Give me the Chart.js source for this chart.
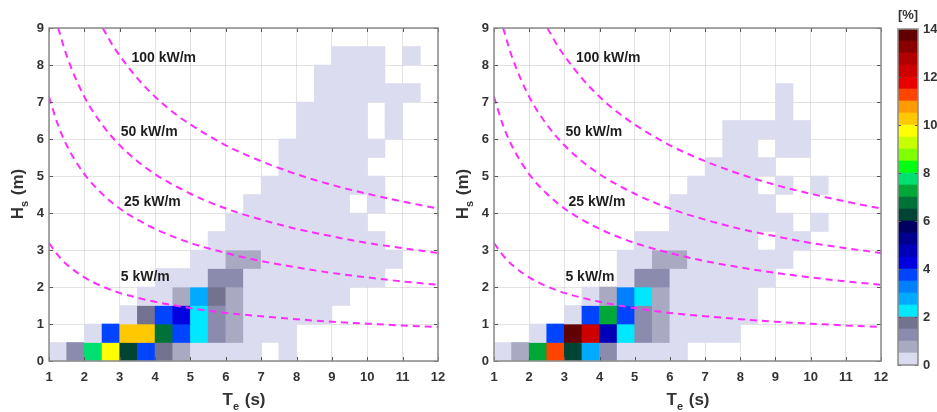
<!DOCTYPE html>
<html>
<head>
<meta charset="utf-8">
<script src="https://cdn.jsdelivr.net/npm/chart.js@4.4.1/dist/chart.umd.min.js"></script>
<style>
  html, body { margin: 0; padding: 0; background: #fff; }
  #wrap { position: relative; width: 937px; height: 412px; overflow: hidden; background: #fff; }
  canvas { position: absolute; top: 0; }
  #leftChart { left: 0; }
  #rightChart { left: 445px; }
  #barChart { left: 880px; }
</style>
</head>
<body>
<div id="wrap">
  <canvas id="leftChart" width="460" height="412"></canvas>
  <canvas id="rightChart" width="460" height="412"></canvas>
  <canvas id="barChart" width="57" height="412"></canvas>
</div>
<script>
// Bin lower edges (0.5 s x 0.5 m bins)
const teEdges = [1, 1.5, 2, 2.5, 3, 3.5, 4, 4.5, 5, 5.5, 6, 6.5, 7, 7.5, 8, 8.5, 9, 9.5, 10, 10.5, 11, 11.5];
const hsEdges = [0, 0.5, 1, 1.5, 2, 2.5, 3, 3.5, 4, 4.5, 5, 5.5, 6, 6.5, 7, 7.5, 8, 8.5];
const binTe = 0.5;
const binHs = 0.5;

// Occurrence [%], one row per Hs bin (bottom row first), one value per Te bin
const leftPct = [
  [0.2,1.2,7.8,9.8,6.2,3.8,1.7,0.7,0.2,0.2,0.2,0.2,0,0.2,0,0,0,0,0,0,0,0],
  [0,0,0.2,3.7,10.2,10.2,6.8,3.7,2.2,1.2,0.7,0.2,0.2,0.2,0,0,0,0,0,0,0,0],
  [0,0,0,0,0.2,1.7,3.8,4.3,2.3,1.2,0.7,0.2,0.2,0.2,0.2,0.2,0,0,0,0,0,0],
  [0,0,0,0,0,0.2,0.2,0.7,2.8,1.7,0.7,0.2,0.2,0.2,0.2,0.2,0.2,0,0,0,0,0],
  [0,0,0,0,0,0,0.2,0.2,0.2,1.2,1.2,0.2,0.2,0.2,0.2,0.2,0.2,0.2,0.2,0,0,0],
  [0,0,0,0,0,0,0,0,0.2,0.2,0.8,0.8,0.2,0.2,0.2,0.2,0.2,0.2,0.2,0.2,0,0],
  [0,0,0,0,0,0,0,0,0,0.2,0.2,0.2,0.2,0.2,0.2,0.2,0.2,0.2,0.2,0,0,0],
  [0,0,0,0,0,0,0,0,0,0,0.2,0.2,0.2,0.2,0.2,0.2,0.2,0.2,0,0,0,0],
  [0,0,0,0,0,0,0,0,0,0,0,0.2,0.2,0.2,0.2,0.2,0.2,0,0.2,0,0,0],
  [0,0,0,0,0,0,0,0,0,0,0,0,0.2,0.2,0.2,0.2,0.2,0.2,0.2,0,0,0],
  [0,0,0,0,0,0,0,0,0,0,0,0,0,0.2,0.2,0.2,0.2,0.2,0,0,0,0],
  [0,0,0,0,0,0,0,0,0,0,0,0,0,0.2,0.2,0.2,0.2,0.2,0.2,0,0,0],
  [0,0,0,0,0,0,0,0,0,0,0,0,0,0,0.2,0.2,0.2,0.2,0,0.2,0,0],
  [0,0,0,0,0,0,0,0,0,0,0,0,0,0,0.2,0.2,0.2,0.2,0,0.2,0,0],
  [0,0,0,0,0,0,0,0,0,0,0,0,0,0,0,0.2,0.2,0.2,0.2,0.2,0.2,0],
  [0,0,0,0,0,0,0,0,0,0,0,0,0,0,0,0.2,0.2,0.2,0.2,0,0,0],
  [0,0,0,0,0,0,0,0,0,0,0,0,0,0,0,0,0.2,0.2,0.2,0,0.2,0],
  [0,0,0,0,0,0,0,0,0,0,0,0,0,0,0,0,0,0,0,0,0,0]
];
const rightPct = [
  [0.2,0.7,7.2,11.2,6.2,2.8,1.2,0.2,0.2,0.2,0.2,0,0,0,0,0,0,0,0,0,0,0],
  [0,0,0.2,3.7,13.8,12.3,4.8,2.2,1.2,0.7,0.2,0.2,0.2,0.2,0,0,0,0,0,0,0,0],
  [0,0,0,0,0.2,3.7,7.2,3.7,1.2,0.7,0.2,0.2,0.2,0.2,0.2,0,0,0,0,0,0,0],
  [0,0,0,0,0,0.2,0.7,3.2,2.2,0.7,0.2,0.2,0.2,0.2,0.2,0,0,0,0,0,0,0],
  [0,0,0,0,0,0,0,0.2,1.2,1.2,0.2,0.2,0.2,0.2,0.2,0.2,0,0,0,0,0,0],
  [0,0,0,0,0,0,0,0.2,0.2,0.8,0.8,0.2,0.2,0.2,0.2,0.2,0.2,0,0,0,0,0],
  [0,0,0,0,0,0,0,0,0.2,0.2,0.2,0.2,0.2,0.2,0.2,0,0.2,0.2,0,0,0,0],
  [0,0,0,0,0,0,0,0,0,0,0.2,0.2,0.2,0.2,0.2,0.2,0.2,0,0.2,0,0,0],
  [0,0,0,0,0,0,0,0,0,0,0.2,0.2,0.2,0.2,0.2,0.2,0,0,0,0,0,0],
  [0,0,0,0,0,0,0,0,0,0,0,0.2,0.2,0.2,0.2,0,0.2,0,0.2,0,0,0],
  [0,0,0,0,0,0,0,0,0,0,0,0,0.2,0.2,0.2,0.2,0,0,0,0,0,0],
  [0,0,0,0,0,0,0,0,0,0,0,0,0,0.2,0.2,0,0.2,0.2,0,0,0,0],
  [0,0,0,0,0,0,0,0,0,0,0,0,0,0.2,0.2,0.2,0.2,0.2,0,0,0,0],
  [0,0,0,0,0,0,0,0,0,0,0,0,0,0,0,0,0.2,0,0,0,0,0],
  [0,0,0,0,0,0,0,0,0,0,0,0,0,0,0,0,0.2,0,0,0,0,0],
  [0,0,0,0,0,0,0,0,0,0,0,0,0,0,0,0,0,0,0,0,0,0],
  [0,0,0,0,0,0,0,0,0,0,0,0,0,0,0,0,0,0,0,0,0,0],
  [0,0,0,0,0,0,0,0,0,0,0,0,0,0,0,0,0,0,0,0,0,0]
];

// Wave power iso-lines (Te [s], Hs [m])
const p5Te = [1, 1.25, 1.5, 2, 2.5, 3, 3.5, 4, 5, 6, 7, 8, 9, 10, 11, 12];
const p5Hs = [3.19, 2.86, 2.61, 2.26, 2.02, 1.84, 1.71, 1.60, 1.43, 1.30, 1.21, 1.13, 1.06, 1.01, 0.96, 0.92];
const p25Te = [1, 1.25, 1.5, 2, 2.5, 3, 3.5, 4, 5, 6, 7, 8, 9, 10, 11, 12];
const p25Hs = [7.14, 6.39, 5.83, 5.05, 4.52, 4.12, 3.82, 3.57, 3.19, 2.92, 2.70, 2.53, 2.38, 2.26, 2.15, 2.06];
const p50Te = [1.26, 1.5, 2, 2.5, 3, 3.5, 4, 5, 6, 7, 8, 9, 10, 11, 12];
const p50Hs = [9.0, 8.25, 7.14, 6.39, 5.83, 5.40, 5.05, 4.52, 4.12, 3.82, 3.57, 3.37, 3.19, 3.05, 2.92];
const p100Te = [2.52, 2.75, 3, 3.5, 4, 4.5, 5, 6, 7, 8, 9, 10, 11, 12];
const p100Hs = [9.0, 8.61, 8.25, 7.64, 7.14, 6.73, 6.39, 5.83, 5.40, 5.05, 4.76, 4.52, 4.31, 4.12];

// Iso-line labels
const curveNames = ['100 kW/m', '50 kW/m', '25 kW/m', '5 kW/m'];
const labelTe = [3.33, 3.03, 3.12, 3.03];
const labelHs = [8.19, 6.18, 4.29, 2.27];

// Colour bar
const cbEdges = [0, 0.5, 1, 1.5, 2, 2.5, 3, 3.5, 4, 4.5, 5, 5.5, 6, 6.5, 7, 7.5, 8, 8.5, 9, 9.5, 10, 10.5, 11, 11.5, 12, 12.5, 13, 13.5, 14];
const cbTicks = [0, 2, 4, 6, 8, 10, 12, 14];
const palette = [
  '#dcdcf0', '#a9a9c2', '#8b8bae', '#737390',
  '#00e8ff', '#00aaff', '#0080ff', '#0044ff',
  '#0000e0', '#0000b8', '#000090', '#000060',
  '#004434', '#007238', '#00a838', '#00e070',
  '#00ff10', '#80ff00', '#c8ff00', '#ffff00',
  '#ffc800', '#ff9a00', '#ff4400', '#e80000',
  '#cc0000', '#b00000', '#880000', '#600000'
];

const FONT = '"Liberation Sans", Arial, Helvetica, sans-serif';
Chart.defaults.font.family = FONT;
Chart.defaults.font.weight = 'bold';
Chart.defaults.font.size = 13;
Chart.defaults.color = '#333';

function colorFor(v) {
  let k = cbEdges.findIndex((e, i) => v >= e && v < cbEdges[i + 1]);
  if (k < 0) k = palette.length - 1;
  return palette[k];
}

// Draws a title with a subscript, e.g. H_s (m)
function subTitle(ctx, main, sub, rest) {
  const big = 'bold 17px ' + FONT, small = 'bold 11px ' + FONT;
  ctx.font = big; const w1 = ctx.measureText(main).width, w3 = ctx.measureText(rest).width;
  ctx.font = small; const w2 = ctx.measureText(sub).width;
  let sx = -(w1 + w2 + w3) / 2;
  ctx.textAlign = 'left'; ctx.textBaseline = 'alphabetic';
  ctx.font = big; ctx.fillText(main, sx, 0);
  ctx.font = small; ctx.fillText(sub, sx + w1, 5);
  ctx.font = big; ctx.fillText(rest, sx + w1 + w2 + 1, 0);
}

// Frame, inward ticks, iso-line labels and axis titles
const panelDecor = {
  id: 'panelDecor',
  afterDraw(chart) {
    const {ctx, chartArea: a, scales: {x, y}} = chart;
    ctx.save();
    ctx.strokeStyle = '#555';
    ctx.lineWidth = 1;
    ctx.beginPath();
    x.ticks.forEach(t => {
      const px = Math.round(x.getPixelForValue(t.value)) + 0.5;
      ctx.moveTo(px, a.bottom); ctx.lineTo(px, a.bottom - 4);
      ctx.moveTo(px, a.top); ctx.lineTo(px, a.top + 4);
    });
    y.ticks.forEach(t => {
      const py = Math.round(y.getPixelForValue(t.value)) + 0.5;
      ctx.moveTo(a.left, py); ctx.lineTo(a.left + 4, py);
      ctx.moveTo(a.right, py); ctx.lineTo(a.right - 4, py);
    });
    ctx.stroke();
    ctx.strokeStyle = '#8a8a8a';
    ctx.lineWidth = 1.5;
    ctx.strokeRect(a.left, a.top, a.right - a.left, a.bottom - a.top);

    ctx.fillStyle = '#1e1e1e';
    ctx.font = 'bold 14px ' + FONT;
    ctx.textAlign = 'left';
    ctx.textBaseline = 'middle';
    curveNames.forEach((t, k) => {
      ctx.fillText(t, x.getPixelForValue(labelTe[k]), y.getPixelForValue(labelHs[k]));
    });

    ctx.fillStyle = '#333';
    ctx.save();
    ctx.translate((a.left + a.right) / 2, 405);
    subTitle(ctx, 'T', 'e', ' (s)');
    ctx.restore();
    ctx.save();
    ctx.translate(a.left - 26, (a.top + a.bottom) / 2);
    ctx.rotate(-Math.PI / 2);
    subTitle(ctx, 'H', 's', ' (m)');
    ctx.restore();
    ctx.restore();
  }
};

function curve(te, hs) {
  return {
    type: 'line',
    data: te.map((t, i) => ({x: t, y: hs[i]})),
    borderColor: '#ff2cff',
    borderWidth: 2,
    borderDash: [7, 5],
    pointRadius: 0,
    fill: false,
    cubicInterpolationMode: 'monotone'
  };
}

function panelConfig(rows, rightPad) {
  const cells = [];
  rows.forEach((row, j) => row.forEach((v, i) => {
    if (v > 0) cells.push({x: teEdges[i] + binTe / 2, y: [hsEdges[j], hsEdges[j] + binHs], v: v});
  }));
  return {
    type: 'bar',
    data: {
      datasets: [
        curve(p5Te, p5Hs),
        curve(p25Te, p25Hs),
        curve(p50Te, p50Hs),
        curve(p100Te, p100Hs),
        {
          type: 'bar',
          data: cells,
          backgroundColor: ctx => colorFor(ctx.raw.v),
          borderWidth: 0,
          barPercentage: 1,
          categoryPercentage: 1
        }
      ]
    },
    options: {
      responsive: false,
      animation: false,
      events: [],
      layout: {padding: {left: 0, right: rightPad, top: 28, bottom: 0}},
      plugins: {legend: {display: false}, tooltip: {enabled: false}},
      scales: {
        x: {
          type: 'linear', min: 1, max: 12, offset: false, z: 1,
          grid: {offset: false, color: 'rgba(0,0,0,0.11)', drawTicks: false},
          border: {display: false},
          ticks: {stepSize: 1, padding: 9, color: '#333'},
          afterFit(s) { s.height = 51; }
        },
        y: {
          type: 'linear', min: 0, max: 9, z: 1,
          grid: {color: 'rgba(0,0,0,0.11)', drawTicks: false},
          border: {display: false},
          ticks: {stepSize: 1, padding: 5, color: '#333'},
          afterFit(s) { s.width = 49; }
        }
      }
    },
    plugins: [panelDecor]
  };
}

new Chart(document.getElementById('leftChart'), panelConfig(leftPct, 22));
new Chart(document.getElementById('rightChart'), panelConfig(rightPct, 24));

// Colour bar block
const cbFrame = {
  id: 'cbFrame',
  afterDraw(chart) {
    const {ctx, chartArea: a, scales: {y}} = chart;
    ctx.save();
    ctx.strokeStyle = '#555';
    ctx.lineWidth = 1;
    ctx.beginPath();
    cbTicks.forEach(v => {
      const py = Math.round(y.getPixelForValue(v)) + 0.5;
      ctx.moveTo(a.left, py); ctx.lineTo(a.left + 3, py);
      ctx.moveTo(a.right, py); ctx.lineTo(a.right - 3, py);
    });
    ctx.stroke();
    ctx.strokeStyle = '#8a8a8a';
    ctx.lineWidth = 1.5;
    ctx.strokeRect(a.left, a.top, a.right - a.left, a.bottom - a.top);
    ctx.fillStyle = '#333';
    ctx.font = 'bold 13px ' + FONT;
    ctx.textAlign = 'center';
    ctx.textBaseline = 'middle';
    ctx.fillText('[%]', (a.left + a.right) / 2, 15);
    ctx.restore();
  }
};

new Chart(document.getElementById('barChart'), {
  type: 'bar',
  data: {
    labels: [''],
    datasets: palette.map((c, i) => ({
      data: [[cbEdges[i], cbEdges[i + 1]]],
      backgroundColor: c,
      borderWidth: 0,
      barPercentage: 1,
      categoryPercentage: 1,
      grouped: false
    }))
  },
  options: {
    responsive: false,
    animation: false,
    events: [],
    layout: {padding: {left: 18, right: 0, top: 29, bottom: 47}},
    plugins: {legend: {display: false}, tooltip: {enabled: false}},
    scales: {
      x: {display: false},
      y: {
        position: 'right', min: 0, max: 14,
        grid: {display: false, drawTicks: false},
        border: {display: false},
        ticks: {stepSize: 2, padding: 5, color: '#333'},
        afterFit(s) { s.width = 19; }
      }
    }
  },
  plugins: [cbFrame]
});
</script>
</body>
</html>
